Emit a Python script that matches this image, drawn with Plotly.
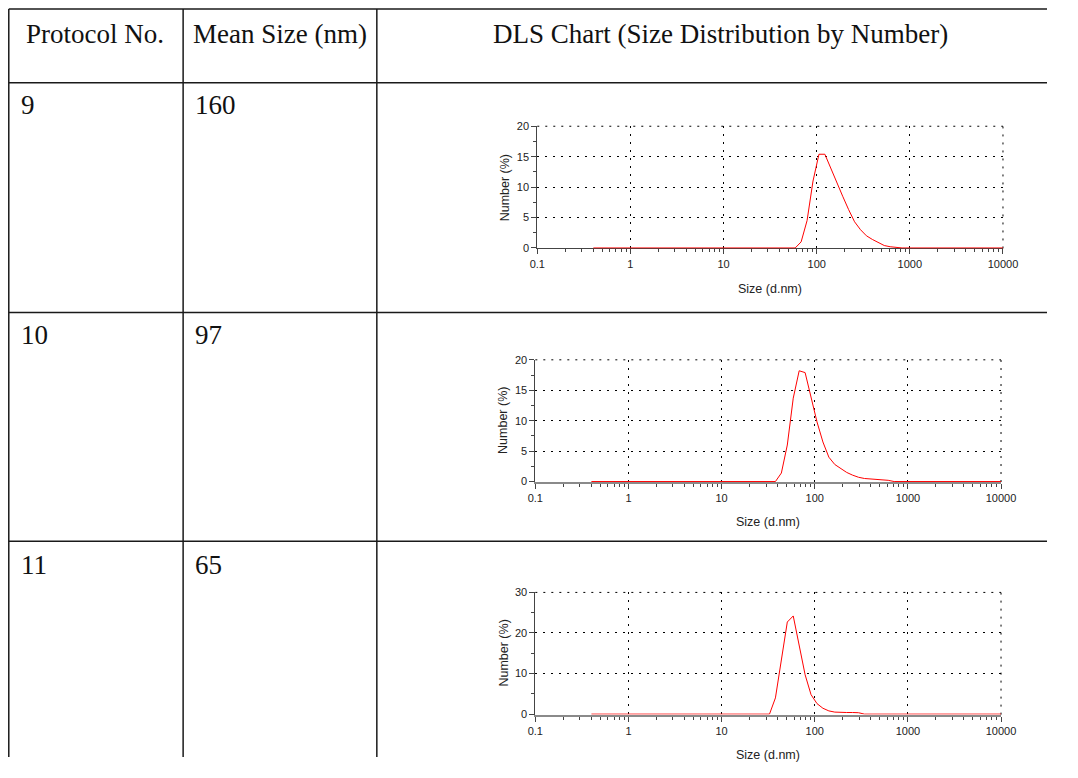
import plotly.graph_objects as go

# The page body keeps its default 8px margin, so the figure is sized to fill
# the 1078x778 window exactly with that margin around it.
PAGE_W, PAGE_H = 1078, 778
OFF = 8
W, H = PAGE_W - 2 * OFF, PAGE_H - 2 * OFF

# ---------------- data ----------------
protocols = ["9", "10", "11"]
mean_sizes = ["160", "97", "65"]
headers = ["Protocol No.", "Mean Size (nm)", "DLS Chart (Size Distribution by Number)"]

size_p9 = [0.4, 50.75, 58.77, 68.06, 78.82, 91.28, 105.7, 122.4, 141.8, 164.2, 190.1,
           220.2, 255.0, 295.3, 342.0, 396.1, 458.7, 531.2, 615.1, 712.4, 825.0, 10000]
num_p9 = [0, 0, 0, 1.0, 4.5, 11.0, 15.4, 15.4, 13.0, 10.9, 8.5,
          6.3, 4.3, 3.0, 2.0, 1.4, 0.85, 0.4, 0.2, 0.15, 0, 0]

size_p10 = [0.4, 32.67, 37.84, 43.82, 50.75, 58.77, 68.06, 78.82, 91.28, 105.7, 122.4,
            141.8, 164.2, 190.1, 220.2, 255.0, 295.3, 342.0, 396.1, 458.7, 531.2, 615.1,
            712.4, 10000]
num_p10 = [0, 0, 0, 1.4, 6.0, 13.7, 18.2, 17.9, 14.0, 9.8, 6.5,
           4.0, 2.8, 2.1, 1.5, 1.05, 0.7, 0.5, 0.45, 0.3, 0.25, 0.2,
           0, 0]

size_p11 = [0.4, 28.21, 32.67, 37.84, 43.82, 50.75, 58.77, 68.06, 78.82, 91.28, 105.7,
            122.4, 141.8, 164.2, 190.1, 220.2, 255.0, 295.3, 342.0, 10000]
num_p11 = [0, 0, 0, 4.0, 13.7, 22.7, 24.2, 17.3, 9.7, 4.8, 2.6,
           1.45, 0.8, 0.5, 0.4, 0.4, 0.4, 0.35, 0, 0]

y_max = [20, 20, 30]
y_dtick = [5, 5, 10]
x_ticks = [0.1, 1, 10, 100, 1000, 10000]

# ---------------- layout helpers (page pixel -> paper) ----------------
def px(x):
    return (x - OFF) / W

def py(y):
    return 1 - (y - OFF) / H

# plot areas in page pixels: (x_left, x_right, y_top, y_bottom)
areas = [(549, 1025, 130, 254), (547, 1023, 367, 491), (547, 1023, 603, 727)]
series = [(size_p9, num_p9), (size_p10, num_p10), (size_p11, num_p11)]

fig = go.Figure()
layout = dict(
    width=W, height=H, margin=dict(l=0, r=0, t=0, b=0),
    paper_bgcolor="white", plot_bgcolor="white", showlegend=False,
)

TICKFONT = dict(family="Liberation Sans, Arial", size=11, color="#222")
TITLEFONT = dict(family="Liberation Sans, Arial", size=12.5, color="#222")
base_color = ["#444", "#8a8a8a", "#8a8a8a"]
base_width = [1, 2, 2]
GRID = dict(color="#000", width=1, dash="2px,6px")

annotations = []
shapes = []

for i, ((xl, xr, yt, yb), (sx, sy)) in enumerate(zip(areas, series)):
    n = "" if i == 0 else str(i + 1)
    fig.add_trace(go.Scatter(
        x=sx, y=sy, mode="lines", line=dict(color="#ff0000", width=1),
        xaxis="x" + n, yaxis="y" + n, hoverinfo="skip",
    ))
    pad = y_max[i] * 0.004
    layout["xaxis" + n] = dict(
        type="log", range=[-1, 4], domain=[px(xl), px(xr)], anchor="y" + n,
        tickmode="array", tickvals=x_ticks, ticktext=[str(v) for v in x_ticks],
        ticks="outside", ticklen=5, tickcolor="#444", tickfont=TICKFONT,
        minor=dict(tickmode="array",
                   tickvals=[m * 10 ** e for e in range(-1, 4) for m in range(2, 10)],
                   ticks="outside", ticklen=3, tickcolor="#444", showgrid=False),
        showline=True, linecolor=base_color[i], linewidth=base_width[i],
        showgrid=True, gridcolor="#000", gridwidth=1, griddash="2px,6px",
        zeroline=False, layer="below traces", fixedrange=True,
    )
    layout["yaxis" + n] = dict(
        range=[-pad, y_max[i]], domain=[py(yb), py(yt)], anchor="x" + n,
        tickmode="linear", tick0=0, dtick=y_dtick[i],
        ticks="outside", ticklen=5, tickcolor="#444", tickfont=TICKFONT,
        minor=dict(tickmode="linear", tick0=0, dtick=y_dtick[i] / 2,
                   ticks="outside", ticklen=3, tickcolor="#444", showgrid=False),
        showline=True, linecolor="#444", linewidth=1,
        showgrid=True, gridcolor="#000", gridwidth=1, griddash="2px,6px",
        zeroline=False, layer="below traces", fixedrange=True,
    )
    # dotted border lines at the top (max y) and right (max x) edges
    shapes.append(dict(type="line", xref="x" + n + " domain", yref="y" + n + " domain",
                       x0=0, x1=1, y0=1, y1=1, line=GRID, layer="below"))
    shapes.append(dict(type="line", xref="x" + n + " domain", yref="y" + n + " domain",
                       x0=1, x1=1, y0=0, y1=1, line=GRID, layer="below"))
    # axis titles
    annotations.append(dict(
        text="Number (%)", x=px(xl - 33), y=py((yt + yb) / 2), xref="paper", yref="paper",
        textangle=-90, showarrow=False, xanchor="center", yanchor="middle", font=TITLEFONT,
    ))
    annotations.append(dict(
        text="Size (d.nm)", x=px((xl + xr) / 2), y=py(yb + 41), xref="paper", yref="paper",
        showarrow=False, xanchor="center", yanchor="middle", font=TITLEFONT,
    ))

# ---------------- table ----------------
LINE = dict(color="#1a1a1a", width=1.5)
for y in [11, 86, 319, 551]:
    shapes.append(dict(type="line", xref="paper", yref="paper",
                       x0=px(8.8), x1=1.0, y0=py(y), y1=py(y), line=LINE))
for x in [8.8, 187, 385]:
    shapes.append(dict(type="line", xref="paper", yref="paper",
                       x0=px(x), x1=px(x), y0=py(11), y1=0.0, line=LINE))

SERIF = dict(family="Liberation Serif, Times New Roman", size=27, color="#111")
header_x = [97, 286, 736]
for hx, txt in zip(header_x, headers):
    annotations.append(dict(text=txt, x=px(hx), y=py(36), xref="paper", yref="paper",
                            showarrow=False, xanchor="center", yanchor="middle", font=SERIF))
row_y = [108, 342, 575]
for ry, p, m in zip(row_y, protocols, mean_sizes):
    annotations.append(dict(text=p, x=px(19), y=py(ry), xref="paper", yref="paper",
                            showarrow=False, xanchor="left", yanchor="middle", font=SERIF))
    annotations.append(dict(text=m, x=px(197), y=py(ry), xref="paper", yref="paper",
                            showarrow=False, xanchor="left", yanchor="middle", font=SERIF))

layout["annotations"] = annotations
layout["shapes"] = shapes
fig.update_layout(**layout)
fig.write_html("out.html")
